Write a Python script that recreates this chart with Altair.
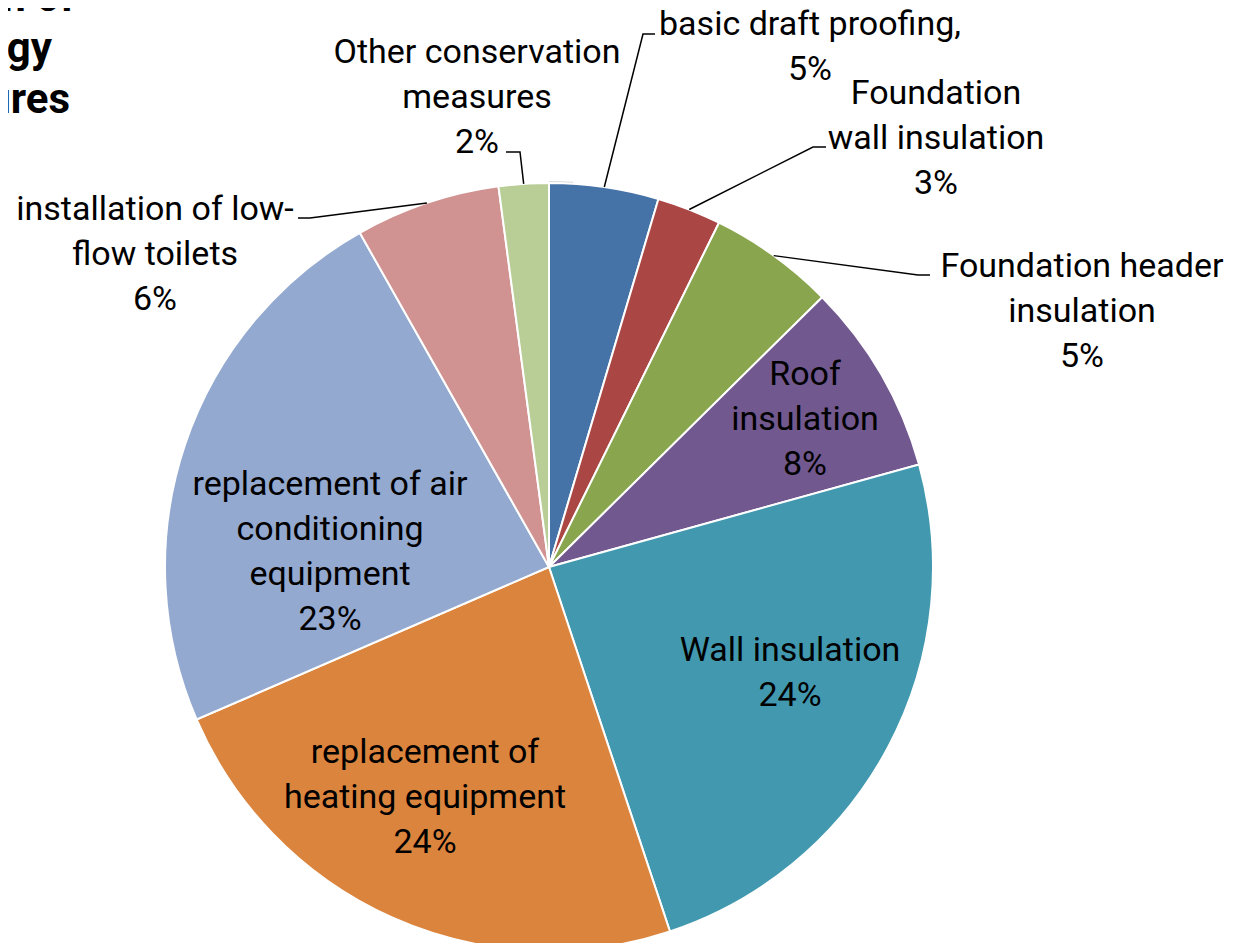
import math
import altair as alt
import pandas as pd

# ---- data ----
categories = [
    "basic draft proofing,",
    "Foundation wall insulation",
    "Foundation header insulation",
    "Roof insulation",
    "Wall insulation",
    "replacement of heating equipment",
    "replacement of air conditioning equipment",
    "installation of low-flow toilets",
    "Other conservation measures",
]
values = [4.6, 2.7, 5.3, 8.1, 24.2, 23.6, 23.3, 6.1, 2.1]
label_lines = [
    ["basic draft proofing,"],
    ["Foundation", "wall insulation"],
    ["Foundation header", "insulation"],
    ["Roof", "insulation"],
    ["Wall insulation"],
    ["replacement of", "heating equipment"],
    ["replacement of air", "conditioning", "equipment"],
    ["installation of low-", "flow toilets"],
    ["Other conservation", "measures"],
]
colors = ["#4572A7", "#AA4643", "#89A54E", "#71588F", "#4198AF",
          "#DB843D", "#93A9CF", "#D19392", "#B9CD96"]
title_lines = ["Distribution of", "Energy", "Measures"]

# ---- layout (svg pixel space) ----
W, H = 1217, 935
CX, CY, R = 541, 559, 384
OFF = 8
FONT = "Roboto"
FS = 34
LH = 45
# label anchor: (center x, first baseline y) in image coords
label_pos = [(810, 35), (936, 104), (1082, 277), (805, 385), (790, 661),
             (425, 763), (330, 495), (155, 220), (477, 63)]
# leader lines: index -> (elbow, end) in image coords
leaders = {
    0: ((643, 34), (655, 34)),
    1: ((813, 147), (826, 147)),
    2: ((918, 275), (930, 275)),
    7: ((310, 218), (298, 218)),
    8: ((520, 152), (506, 152)),
}
title_pos = [(75, 11), (52, 62), (70, 113)]

total = sum(values)
pie_df = pd.DataFrame({"category": categories, "value": values,
                       "idx": list(range(len(values)))})

# text labels
rows = []
for i, (lines, (lx, ly)) in enumerate(zip(label_lines, label_pos)):
    pct = f"{round(values[i] / total * 100)}%"
    rows.append({"text": "\n".join(lines + [pct]), "x": lx - OFF, "y": ly - OFF})
text_df = pd.DataFrame(rows)

# leader lines: start on the arc at slice mid-angle
cum = 0.0
mids = []
for v in values:
    mids.append((cum + v / 2) / total * 2 * math.pi)
    cum += v
lrows = []
for i, (elb, end) in leaders.items():
    a = mids[i]
    sx = CX + R * math.sin(a)
    sy = CY - R * math.cos(a)
    pts = [(sx, sy), (elb[0] - OFF, elb[1] - OFF), (end[0] - OFF, end[1] - OFF)]
    for k, (px, py) in enumerate(pts):
        lrows.append({"lid": i, "step": k, "px": px, "py": py})
lead_df = pd.DataFrame(lrows)

title_df = pd.DataFrame({"t": title_lines,
                         "x": [p[0] - OFF for p in title_pos],
                         "y": [p[1] - OFF for p in title_pos]})

halo = alt.Chart(pd.DataFrame({"v": [1]})).mark_arc(
    outerRadius=R + 2, color="#d9d9d9"
).encode(theta=alt.Theta("v:Q"), x=alt.value(CX), y=alt.value(CY))

pie = alt.Chart(pie_df).mark_arc(
    outerRadius=R, stroke="white", strokeWidth=2
).encode(
    theta=alt.Theta("value:Q", stack=True),
    order=alt.Order("idx:Q"),
    color=alt.Color("category:N", scale=alt.Scale(domain=categories, range=colors),
                    legend=None),
    x=alt.value(CX), y=alt.value(CY),
)

lead = alt.Chart(lead_df).mark_line(color="black", strokeWidth=1.5).encode(
    x=alt.X("px:Q", scale=None, axis=None),
    y=alt.Y("py:Q", scale=None, axis=None),
    detail="lid:N",
    order="step:Q",
)

labels = alt.Chart(text_df).mark_text(
    align="center", baseline="alphabetic", lineBreak="\n", lineHeight=LH,
    fontSize=FS, font=FONT, color="black"
).encode(
    x=alt.X("x:Q", scale=None, axis=None),
    y=alt.Y("y:Q", scale=None, axis=None),
    text="text:N",
)

title = alt.Chart(title_df).mark_text(
    align="right", baseline="alphabetic", fontSize=42, fontWeight="bold",
    font=FONT, color="black"
).encode(
    x=alt.X("x:Q", scale=None, axis=None),
    y=alt.Y("y:Q", scale=None, axis=None),
    text="t:N",
)

chart = alt.layer(halo, pie, lead, labels, title).properties(
    width=W, height=H, padding=0,
    autosize=alt.AutoSizeParams(type="none"),
).configure_view(strokeWidth=0)

chart.save("out.html", embed_options={"renderer": "svg", "actions": False})
